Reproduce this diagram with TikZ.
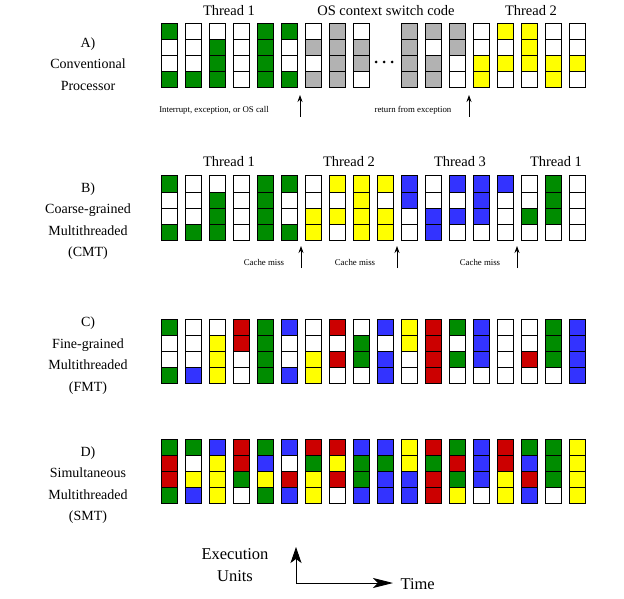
\documentclass[tikz,border=0pt]{standalone}
\usepackage{fontspec}
\setmainfont{Liberation Serif}
\usetikzlibrary{arrows.meta}

\definecolor{G}{RGB}{0,140,0}
\definecolor{W}{RGB}{255,255,255}
\definecolor{Y}{RGB}{255,255,0}
\definecolor{B}{RGB}{51,51,255}
\definecolor{R}{RGB}{204,0,0}
\definecolor{S}{RGB}{178,178,178}

\begin{document}
\begin{tikzpicture}[x=1pt,y=-1pt]
    \tikzstyle{cell}=[draw=black, line width=1pt]
    \tikzstyle{lbl}=[align=center, font=\fontsize{14}{21.5}\selectfont]
    \tikzstyle{thr}=[font=\fontsize{14.5}{17}\selectfont]
    \tikzstyle{evt}=[font=\fontsize{8.8}{10}\selectfont]
    \tikzstyle{up}=[line width=0.8pt, -{Stealth[length=7pt,width=5pt]}]
    \tikzstyle{axis}=[line width=0.9pt]

    \useasboundingbox (0,0) rectangle (624,599);

    % row labels
    \node[lbl] (A) at (88,64)    {A)\\Conventional\\Processor};
    \node[lbl] (B) at (88,221)   {B)\\Coarse-grained\\Multithreaded\\(CMT)};
    \node[lbl] (C) at (88,355.5) {C)\\Fine-grained\\Multithreaded\\(FMT)};
    \node[lbl] (D) at (88,485)   {D)\\Simultaneous\\Multithreaded\\(SMT)};

    % A) conventional
    \foreach \a/\b/\c/\d [count=\i from 0] in {G/W/W/G, W/W/W/G, W/G/G/G, W/W/W/W,
        G/G/G/G, G/W/W/G, W/S/W/S, S/S/S/S, W/S/S/W}
      \foreach \f [count=\j from 0] in {\a,\b,\c,\d}
        \draw[cell, fill=\f] (161+24*\i,24+16*\j) rectangle ++(16,16);
    \foreach \a/\b/\c/\d [count=\i from 10] in {S/S/S/S, S/W/S/S, S/S/W/W, W/W/Y/Y,
        Y/W/Y/W, Y/Y/Y/W, W/W/Y/Y, W/W/Y/W}
      \foreach \f [count=\j from 0] in {\a,\b,\c,\d}
        \draw[cell, fill=\f] (161+24*\i,24+16*\j) rectangle ++(16,16);
    \foreach \x in {376,384,392}
      \fill (\x,62) circle (1.5pt);

    \node[thr] (a1) at (229,11) {Thread 1};
    \node[thr] (os) at (386,11) {OS context switch code};
    \node[thr] (a2) at (531,11) {Thread 2};

    \node[evt] (irq) at (214,110) {Interrupt, exception, or OS call};
    \node[evt] (ret) at (413,110) {return from exception};
    \coordinate (irq0) at (300,117);  \coordinate (irq1) at (300,95);
    \coordinate (ret0) at (469,117);  \coordinate (ret1) at (469,95);
    \draw[up] (irq0) -- (irq1);
    \draw[up] (ret0) -- (ret1);

    % B) coarse-grained
    \foreach \a/\b/\c/\d [count=\i from 0] in {G/W/W/G, W/W/W/G, W/G/G/G, W/W/W/W,
        G/G/G/G, G/W/W/G, W/W/Y/Y, Y/W/Y/W, Y/Y/Y/Y, Y/W/Y/Y, B/B/W/W, W/W/B/B,
        B/W/B/W, B/B/B/W, B/W/W/W, W/W/G/W, G/G/G/W, W/W/W/W}
      \foreach \f [count=\j from 0] in {\a,\b,\c,\d}
        \draw[cell, fill=\f] (161+24*\i,176+16*\j) rectangle ++(16,16);

    \node[thr] (b1) at (229,162) {Thread 1};
    \node[thr] (b2) at (349,162) {Thread 2};
    \node[thr] (b3) at (460,162) {Thread 3};
    \node[thr] (b4) at (556,162) {Thread 1};

    \node[evt] (m1) at (264,262) {Cache miss};
    \node[evt] (m2) at (355,262) {Cache miss};
    \node[evt] (m3) at (480,262) {Cache miss};
    \coordinate (m10) at (301,268);  \coordinate (m11) at (301,246);
    \coordinate (m20) at (397,268);  \coordinate (m21) at (397,246);
    \coordinate (m30) at (517,268);  \coordinate (m31) at (517,246);
    \draw[up] (m10) -- (m11);
    \draw[up] (m20) -- (m21);
    \draw[up] (m30) -- (m31);

    % C) fine-grained
    \foreach \a/\b/\c/\d [count=\i from 0] in {G/W/W/G, W/W/W/B, W/Y/Y/Y, R/R/W/W,
        G/G/G/G, B/W/W/B, W/W/Y/Y, R/W/R/W, W/G/G/W, B/W/B/B, Y/Y/W/W, R/R/R/R,
        G/W/G/W, B/B/B/W, W/W/W/W, W/W/R/W, G/G/G/W, B/B/B/B}
      \foreach \f [count=\j from 0] in {\a,\b,\c,\d}
        \draw[cell, fill=\f] (161+24*\i,319+16*\j) rectangle ++(16,16);

    % D) simultaneous
    \foreach \a/\b/\c/\d [count=\i from 0] in {G/R/R/G, G/W/Y/B, B/Y/Y/Y, R/R/G/W,
        G/B/Y/G, B/W/R/B, R/G/Y/Y, R/Y/R/W, B/G/G/B, B/G/B/B, Y/Y/B/B, R/G/R/R,
        G/R/G/Y, B/B/B/W, R/R/Y/Y, G/B/R/B, G/G/G/W, Y/Y/Y/Y}
      \foreach \f [count=\j from 0] in {\a,\b,\c,\d}
        \draw[cell, fill=\f] (161+24*\i,439+16*\j) rectangle ++(16,16);

    % axes
    \coordinate (o)  at (296,583);
    \coordinate (eu) at (296,547);
    \coordinate (tm) at (393,583);
    \draw[axis, -{Stealth[length=16pt,width=11pt,inset=4pt]}] (o) -- (eu);
    \draw[axis, -{Stealth[length=20pt,width=10pt,inset=5pt]}] (o) -- (tm);
    \node[align=center, font=\fontsize{16.5}{22}\selectfont] (exe) at (235,565) {Execution\\Units};
    \node[anchor=west, font=\fontsize{16.5}{20}\selectfont] (time) at (397,584) {Time};
\end{tikzpicture}
\end{document}
